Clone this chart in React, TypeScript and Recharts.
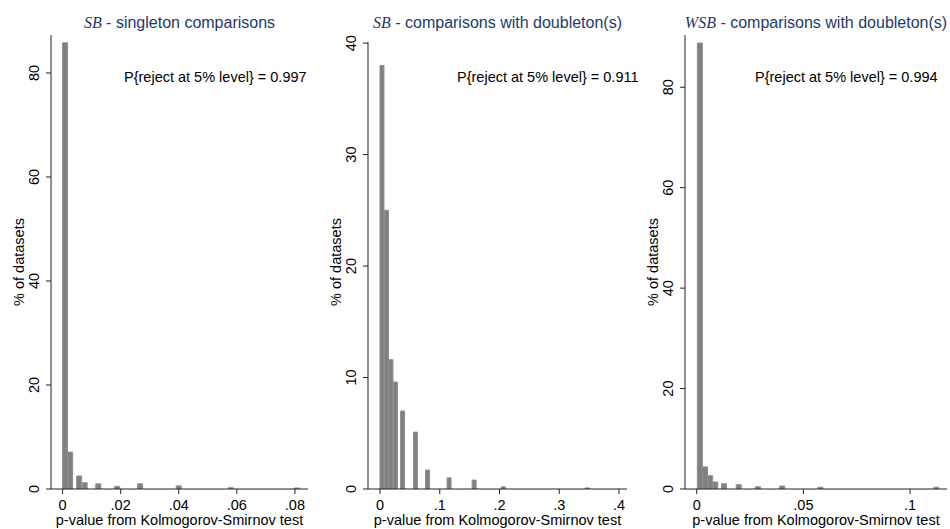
import React from 'react';
import { BarChart, Bar, XAxis, YAxis } from 'recharts';

// p-value positions (bar centres) and % of datasets
const sbSingleP = [0.00086, 0.0026, 0.0057, 0.0076, 0.0123, 0.0188, 0.0267, 0.04, 0.0579, 0.0807];
const sbSinglePct = [85.8, 7.1, 2.5, 1.2, 1.0, 0.5, 1.0, 0.6, 0.25, 0.2];

const sbDoubleP = [0.0037, 0.0112, 0.0187, 0.0262, 0.0382, 0.0597, 0.08, 0.116, 0.158, 0.2067, 0.3473];
const sbDoublePct = [38.0, 25.0, 11.6, 9.6, 7.0, 5.1, 1.7, 1.0, 0.8, 0.2, 0.1];

const wsbDoubleP = [0.0015, 0.0039, 0.0063, 0.0087, 0.0128, 0.0197, 0.0287, 0.0401, 0.058, 0.1123];
const wsbDoublePct = [88.8, 4.4, 2.65, 1.4, 1.05, 0.85, 0.45, 0.6, 0.35, 0.35];

const sbSingleTicks = [0, 0.02, 0.04, 0.06, 0.08];
const sbDoubleTicks = [0, 0.1, 0.2, 0.3, 0.4];
const wsbDoubleTicks = [0, 0.05, 0.1];

const pctTicks80 = [0, 20, 40, 60, 80];
const pctTicks40 = [0, 10, 20, 30, 40];

const rejectShares = ['0.997', '0.911', '0.994'];

const FONT = '"Liberation Sans", Arial, Helvetica, sans-serif';
const TITLE_COLOR = '#1e3a68';
const BAR_COLOR = '#808080';

const fmtP = (v: number) => (v === 0 ? '0' : String(v).replace(/^0/, ''));

const YTick = (props: any) => {
  const { x, y, payload } = props;
  return (
    <text
      x={x}
      y={y}
      transform={`rotate(-90 ${x} ${y})`}
      textAnchor="middle"
      fontSize={14.5}
      fontFamily={FONT}
      fill="#000"
    >
      {payload.value}
    </text>
  );
};

interface PanelProps {
  left: number;
  width: number;
  top: number;
  marginLeft: number;
  marginRight: number;
  p: number[];
  pct: number[];
  xDomain: [number, number];
  yDomain: [number, number];
  xTicks: number[];
  yTicks: number[];
}

const Panel = ({ left, width, top, marginLeft, marginRight, p, pct, xDomain, yDomain, xTicks, yTicks }: PanelProps) => {
  const rows = p.map((v, i) => ({ p: v, pct: pct[i] }));
  return (
    <div style={{ position: 'absolute', left, top: 0 }}>
      <BarChart
        width={width}
        height={529}
        data={rows}
        margin={{ top, right: marginRight, bottom: 0, left: marginLeft }}
        barCategoryGap={0}
        barGap={0}
      >
        <XAxis
          type="number"
          dataKey="p"
          domain={xDomain}
          allowDataOverflow
          ticks={xTicks}
          tickFormatter={fmtP}
          height={40}
          tickSize={5}
          tickMargin={6}
          stroke="#222"
          tick={{ fontSize: 14.5, fontFamily: FONT, fill: '#000' }}
        />
        <YAxis
          type="number"
          domain={yDomain}
          allowDataOverflow
          ticks={yTicks}
          width={40}
          tickSize={5}
          tickMargin={7}
          stroke="#222"
          tick={<YTick />}
        />
        <Bar dataKey="pct" fill={BAR_COLOR} stroke="#8e8e8e" strokeWidth={1} isAnimationActive={false} />
      </BarChart>
    </div>
  );
};

// plot regions: [left axis x, right end x]
const plots = [
  { x0: 51, x1: 308, title: ' - singleton comparisons', em: 'SB', ann: 124 },
  { x0: 368, x1: 627, title: ' - comparisons with doubleton(s)', em: 'SB', ann: 457 },
  { x0: 685, x1: 947, title: ' - comparisons with doubleton(s)', em: 'WSB', ann: 755 },
];

export default function App() {
  return (
    <div style={{ position: 'absolute', left: 0, top: 0, width: 950, height: 529, background: '#fff', overflow: 'hidden' }}>
      <Panel
        left={0}
        width={320}
        top={35}
        marginLeft={11}
        marginRight={12}
        p={sbSingleP}
        pct={sbSinglePct}
        xDomain={[-0.004, 0.0845]}
        yDomain={[0, 87.3]}
        xTicks={sbSingleTicks}
        yTicks={pctTicks80}
      />
      <Panel
        left={320}
        width={320}
        top={42}
        marginLeft={8}
        marginRight={13}
        p={sbDoubleP}
        pct={sbDoublePct}
        xDomain={[-0.0201, 0.4134]}
        yDomain={[0, 40.1]}
        xTicks={sbDoubleTicks}
        yTicks={pctTicks40}
      />
      <Panel
        left={640}
        width={310}
        top={35}
        marginLeft={5}
        marginRight={3}
        p={wsbDoubleP}
        pct={wsbDoublePct}
        xDomain={[-0.0055, 0.1173]}
        yDomain={[0, 90.4]}
        xTicks={wsbDoubleTicks}
        yTicks={pctTicks80}
      />
      <svg width={950} height={529} style={{ position: 'absolute', left: 0, top: 0, pointerEvents: 'none' }}>
        {plots.map((pl, i) => {
          const cx = (pl.x0 + pl.x1) / 2;
          return (
            <g key={i} fontFamily={FONT}>
              <text x={cx} y={28} textAnchor="middle" fontSize={16} fill={TITLE_COLOR}>
                <tspan fontFamily='"Liberation Serif", "Times New Roman", serif' fontStyle="italic">{pl.em}</tspan>
                <tspan>{pl.title}</tspan>
              </text>
              <text x={pl.ann} y={82} fontSize={14.5} fill="#000">
                {`P{reject at 5% level} = ${rejectShares[i]}`}
              </text>
              <text x={cx} y={525} textAnchor="middle" fontSize={14.5} fill="#000">
                p-value from Kolmogorov-Smirnov test
              </text>
              <text
                x={pl.x0 - 27}
                y={262}
                transform={`rotate(-90 ${pl.x0 - 27} 262)`}
                textAnchor="middle"
                fontSize={14.5}
                fill="#000"
              >
                % of datasets
              </text>
            </g>
          );
        })}
      </svg>
    </div>
  );
}
